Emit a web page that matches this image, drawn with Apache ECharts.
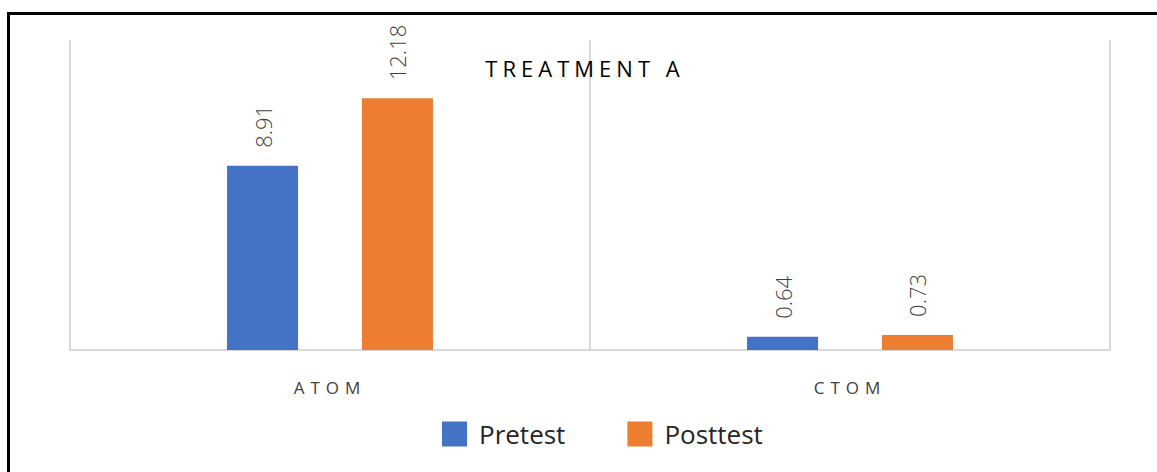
<!DOCTYPE html>
<html>
<head>
<meta charset="utf-8">
<script src="https://cdn.jsdelivr.net/npm/echarts@6/dist/echarts.min.js"></script>
<style>
  html, body { margin: 0; padding: 0; background: #ffffff; overflow: hidden; }
  #wrap { position: relative; width: 1157px; height: 472px; overflow: hidden; }
  #chart { width: 1157px; height: 472px; }
  /* outer frame: only its top and left edges fall inside the page */
  .edge { position: absolute; background: #000; pointer-events: none; }
  #edgeTop { left: 7px; top: 12px; width: 1150px; height: 3px; }
  #edgeLeft { left: 7px; top: 12px; width: 3px; height: 460px; }
</style>
</head>
<body>
<div id="wrap">
  <div id="chart"></div>
  <div class="edge" id="edgeTop"></div>
  <div class="edge" id="edgeLeft"></div>
</div>
<script>
// Chart data
const categories = ['ATOM', 'CTOM'];
const seriesNames = ['Pretest', 'Posttest'];
const pretest = [8.91, 0.64];
const posttest = [12.18, 0.73];
const colors = ['#4472C4', '#ED7D31'];
const chartTitle = 'TREATMENT A';

const chart = echarts.init(document.getElementById('chart'), null, { renderer: 'svg' });

const labelStyle = {
  show: true,
  position: 'top',
  rotate: 90,
  align: 'left',
  verticalAlign: 'middle',
  distance: 18,
  fontFamily: 'Open Sans',
  fontWeight: 300,
  fontSize: 22,
  color: '#404040',
  formatter: p => p.value.toFixed(2)
};

chart.setOption({
  animation: false,
  title: {
    text: chartTitle,
    left: 580,
    top: 52,
    textAlign: 'center',
    textStyle: { fontFamily: 'Open Sans', fontSize: 22, fontWeight: 'normal', color: '#000000' }
  },
  legend: {
    data: seriesNames,
    left: 442,
    top: 421,
    padding: 0,
    itemWidth: 25,
    itemHeight: 25,
    itemGap: 62,
    icon: 'rect',
    textStyle: { fontFamily: 'Open Sans', fontSize: 26, color: '#262626', padding: [0, 0, 0, 7] }
  },
  grid: { left: 70, right: 47, top: 40, bottom: 122 },
  xAxis: {
    type: 'category',
    data: categories,
    axisLine: { lineStyle: { color: '#d9d9d9', width: 2 } },
    axisTick: { show: false },
    splitLine: { show: true, lineStyle: { color: '#d9d9d9', width: 2 } },
    axisLabel: { fontFamily: 'Open Sans', fontSize: 17, color: '#404040', margin: 29 }
  },
  yAxis: {
    type: 'value',
    min: 0,
    max: 15,
    show: false
  },
  series: [
    { name: seriesNames[0], type: 'bar', data: pretest, barWidth: 71, barGap: '90%',
      itemStyle: { color: colors[0] }, label: labelStyle },
    { name: seriesNames[1], type: 'bar', data: posttest, barWidth: 71, barGap: '90%',
      itemStyle: { color: colors[1] }, label: labelStyle }
  ]
});

// Spaced capitals for the title and category names
const spacing = { 'TREATMENT A': '5px', 'ATOM': '6px', 'CTOM': '6px' };
document.querySelectorAll('#chart svg text').forEach(t => {
  const s = spacing[t.textContent.trim()];
  if (s) t.style.letterSpacing = s;
});
</script>
</body>
</html>
